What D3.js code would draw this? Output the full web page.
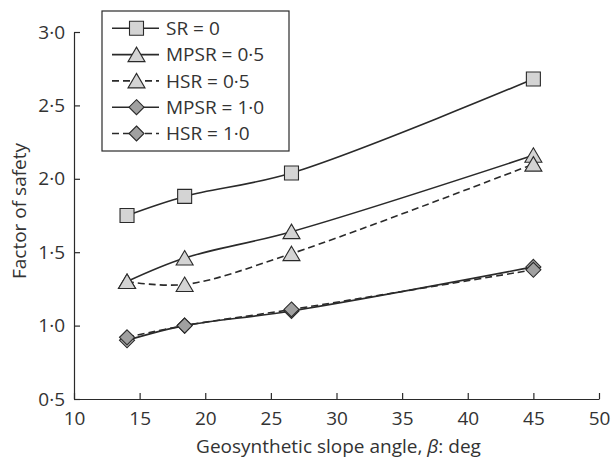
<!DOCTYPE html>
<html><head><meta charset="utf-8">
<script src="https://cdn.jsdelivr.net/npm/d3@7"></script>
<style>body{margin:0;background:#fff}text{font-family:"Open Sans","Noto Sans",sans-serif;fill:#333}</style>
</head><body><svg id="c" width="611" height="459"></svg>
<script>
const angles = [14.04, 18.43, 26.57, 45];
const sr0 = [1.75, 1.88, 2.04, 2.68];
const mpsr05 = [1.30, 1.46, 1.64, 2.16];
const hsr05 = [1.30, 1.28, 1.49, 2.10];
const mpsr10 = [0.90, 1.00, 1.10, 1.40];
const hsr10 = [0.92, 1.00, 1.11, 1.38];
const seriesNames = ["SR = 0", "MPSR = 0·5", "HSR = 0·5", "MPSR = 1·0", "HSR = 1·0"];
const xTicks = [10, 15, 20, 25, 30, 35, 40, 45, 50];
const yTicks = [0.5, 1.0, 1.5, 2.0, 2.5, 3.0];
const yTickLabels = ["0·5", "1·0", "1·5", "2·0", "2·5", "3·0"];

const series = [
  {name: seriesNames[0], vals: sr0, dash: null, shape: "square", fill: "#d4d4d4"},
  {name: seriesNames[1], vals: mpsr05, dash: null, shape: "triangle", fill: "#d4d4d4"},
  {name: seriesNames[2], vals: hsr05, dash: "7,4", shape: "triangle", fill: "#d4d4d4"},
  {name: seriesNames[3], vals: mpsr10, dash: null, shape: "diamond", fill: "#a0a0a0"},
  {name: seriesNames[4], vals: hsr10, dash: "7,4", shape: "diamond", fill: "#a0a0a0"}
];

const FS = 19;
const svg = d3.select("#c");
const x = d3.scaleLinear().domain([10, 50]).range([74, 599]);
const y = d3.scaleLinear().domain([0.5, 3.0]).range([399, 32]);
const ink = "#2a2a2a";

// axes
const gx = svg.append("g").attr("transform", "translate(0,399)")
  .call(d3.axisBottom(x).tickValues(xTicks).tickSize(-6).tickSizeOuter(0).tickPadding(13));
const gy = svg.append("g").attr("transform", "translate(74,0)")
  .call(d3.axisLeft(y).tickValues(yTicks).tickFormat((d,i)=>yTickLabels[i]).tickSize(-6).tickSizeOuter(0).tickPadding(9));
[gx, gy].forEach(g => {
  g.select(".domain").attr("stroke", ink).attr("stroke-width", 1.2);
  g.selectAll(".tick line").attr("stroke", ink).attr("stroke-width", 1.2);
  g.selectAll(".tick text").attr("font-size", FS).style("fill", "#333").attr("font-family", "'Open Sans', sans-serif");
});

svg.append("text").attr("x", (74+599)/2 + 2).attr("y", 453).attr("text-anchor", "middle")
  .attr("font-size", FS)
  .html('Geosynthetic slope angle, <tspan font-style="italic">β</tspan>: deg');
svg.append("text").attr("transform", "translate(26,211) rotate(-90)").attr("text-anchor", "middle")
  .attr("font-size", FS).text("Factor of safety");

const shapes = {
  square: "M-7,-7H7V7H-7Z",
  triangle: "M0,-7.5L8.5,7L-8.5,7Z",
  diamond: "M0,-7.5L7.5,0L0,7.5L-7.5,0Z"
};

const line = d3.line().x(d => x(d[0])).y(d => y(d[1])).curve(d3.curveCatmullRom.alpha(0.5));

series.forEach(s => {
  const pts = angles.map((a, i) => [a, s.vals[i]]);
  svg.append("path").datum(pts).attr("d", line).attr("fill", "none")
    .attr("stroke", ink).attr("stroke-width", 1.6).attr("stroke-dasharray", s.dash);
});
series.forEach(s => {
  const pts = angles.map((a, i) => [a, s.vals[i]]);
  svg.append("g").selectAll("path").data(pts).join("path")
    .attr("transform", d => `translate(${x(d[0])},${y(d[1])})`)
    .attr("d", shapes[s.shape]).attr("fill", s.fill).attr("stroke", ink).attr("stroke-width", 1.1);
});

// legend
const lg = svg.append("g");
lg.append("rect").attr("x", 102).attr("y", 11).attr("width", 187).attr("height", 140)
  .attr("fill", "#fff").attr("stroke", ink).attr("stroke-width", 1.2);
series.forEach((s, i) => {
  const yy = 28.3 + i * 26.3;
  lg.append("line").attr("x1", 112).attr("x2", 159).attr("y1", yy).attr("y2", yy)
    .attr("stroke", ink).attr("stroke-width", 1.6).attr("stroke-dasharray", s.dash);
  lg.append("path").attr("transform", `translate(136.5,${yy})`)
    .attr("d", shapes[s.shape]).attr("fill", s.fill).attr("stroke", ink).attr("stroke-width", 1.1);
  lg.append("text").attr("x", 166).attr("y", yy).attr("dy", "0.36em").attr("font-size", FS).text(s.name);
});
</script></body></html>
